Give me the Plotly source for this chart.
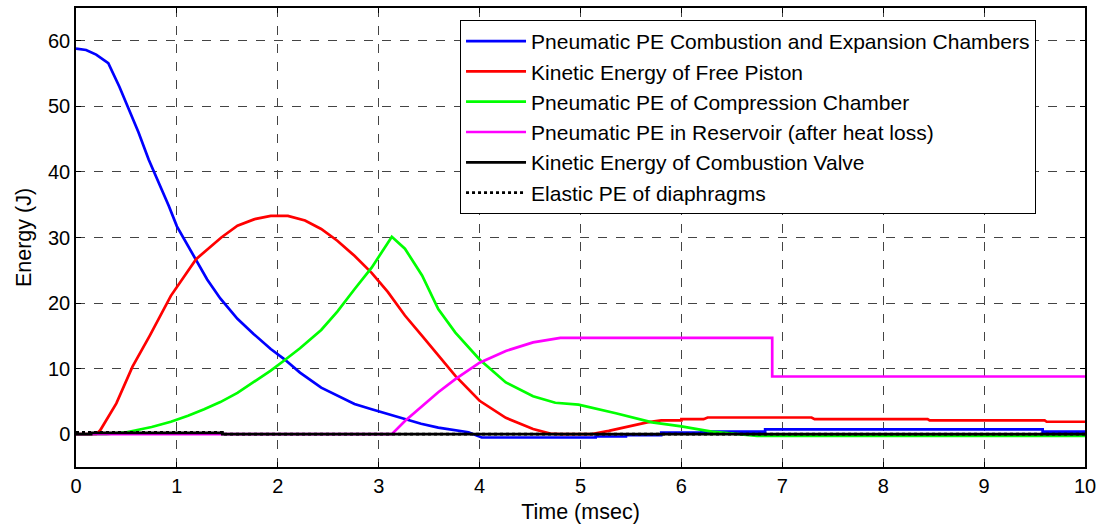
import plotly.graph_objects as go

# ---- data ----
t_blue = [0, 0.1, 0.2, 0.32, 0.43, 0.52, 0.62, 0.72, 0.82, 0.92, 1.0, 1.19, 1.3, 1.43, 1.6, 1.76, 1.93, 2.06, 2.22, 2.43,
          2.59, 2.76, 2.93, 3.1, 3.26, 3.42, 3.59, 3.75, 3.89, 4.02,
          5.15, 5.15, 5.45, 5.45, 5.8, 5.8, 6.2, 6.2, 6.83, 6.83, 9.58, 9.58, 10]
e_blue = [58.8, 58.6, 57.9, 56.6, 53.0, 49.8, 46, 41.9, 38.4, 34.8, 31.7, 26.7, 23.6, 20.7, 17.6, 15.3, 13.0, 11.5, 9.4, 7.1,
          5.85, 4.6, 3.8, 3.0, 2.3, 1.6, 1.0, 0.6, 0.3, -0.5,
          -0.5, -0.35, -0.35, -0.15, -0.15, 0.25, 0.25, 0.4, 0.4, 0.75, 0.75, 0.4, 0.4]

t_red = [0, 0.2, 0.24, 0.4, 0.56, 0.73, 0.94, 1.19, 1.44, 1.6, 1.77, 1.93, 2.1, 2.27, 2.43, 2.59, 2.76, 2.93, 3.09, 3.26,
         3.43, 3.59, 3.76, 4.0, 4.26, 4.53, 4.7, 4.8, 5.1, 5.28, 5.66, 5.8, 6.0, 6.0, 6.22, 6.26, 7.29, 7.32, 8.44, 8.46,
         9.6, 9.62, 10]
e_red = [0, 0, 0.6, 4.7, 10.3, 15, 21.1, 26.7, 30, 31.8, 32.8, 33.3, 33.3, 32.6, 31.3, 29.5, 27.2, 24.6, 21.7, 18.1,
         15.0, 12.0, 8.9, 5.1, 2.5, 0.8, 0.1, 0, 0, 0.5, 1.8, 2.1, 2.1, 2.3, 2.3, 2.55, 2.55, 2.3, 2.3, 2.1,
         2.1, 1.9, 1.9]

t_green = [0, 0.3, 0.5, 0.75, 0.94, 1.11, 1.27, 1.43, 1.6, 1.76, 1.93, 2.06, 2.22, 2.43, 2.59, 2.76, 2.93, 3.13, 3.26,
           3.43, 3.59, 3.76, 4.0, 4.26, 4.53, 4.75, 4.98, 5.35, 5.71, 6.0, 6.3, 6.75, 10]
e_green = [0, 0, 0.3, 1.1, 1.9, 2.8, 3.8, 4.9, 6.3, 7.9, 9.7, 11.2, 13.1, 15.9, 18.7, 22.1, 25.4, 30.1, 28.3,
           24.2, 19.1, 15.5, 11.4, 7.9, 5.8, 4.8, 4.5, 3.2, 1.8, 1.2, 0.4, -0.25, -0.25]

t_mag = [0, 3.13, 3.26, 3.43, 3.59, 3.76, 4.0, 4.26, 4.53, 4.8, 6.9, 6.9, 10]
e_mag = [0, 0, 2.0, 4.3, 6.4, 8.4, 10.9, 12.7, 14.0, 14.7, 14.7, 8.8, 8.8]

t_valve = [0, 0.15, 0.15, 1.45, 1.45, 10]
e_valve = [0, 0, 0.2, 0.2, 0, 0]

t_diaph = [0, 1.45, 1.45, 10]
e_diaph = [0.3, 0.3, 0, 0]

names = ["Pneumatic PE Combustion and Expansion Chambers",
         "Kinetic Energy of Free Piston",
         "Pneumatic PE of Compression Chamber",
         "Pneumatic PE in Reservoir (after heat loss)",
         "Kinetic Energy of Combustion Valve",
         "Elastic PE of diaphragms"]
colors = ["#0000ff", "#ff0000", "#00ff00", "#ff00ff", "#000000", "#000000"]
dashes = ["solid", "solid", "solid", "solid", "solid", "dot"]

x_ticks = list(range(0, 11))
y_ticks = [0, 10, 20, 30, 40, 50, 60]

series = [(t_blue, e_blue), (t_red, e_red), (t_green, e_green), (t_mag, e_mag), (t_valve, e_valve), (t_diaph, e_diaph)]

fig = go.Figure()
for (tx, ey), n, c, d in zip(series, names, colors, dashes):
    fig.add_trace(go.Scatter(x=tx, y=ey, mode="lines", name=n,
                             line=dict(color=c, width=2.7, dash=d)))

font = "Liberation Sans, Arial, sans-serif"
axis_common = dict(showline=True, linecolor="black", linewidth=1.5, mirror="ticks",
                   ticks="inside", ticklen=5, tickcolor="black",
                   showgrid=True, gridcolor="#444444", griddash="dash", gridwidth=1,
                   zeroline=False, automargin=False, ticklabeloverflow="allow",
                   tickfont=dict(family=font, size=20, color="black"))

fig.update_layout(
    width=1097, height=525,
    margin=dict(l=76, r=12, t=8, b=58, autoexpand=False),
    paper_bgcolor="white", plot_bgcolor="white",
    font=dict(family=font, size=20, color="black"),
    xaxis=dict(range=[0, 10], tickvals=x_ticks,
               title=dict(text="Time (msec)", standoff=8, font=dict(family=font, size=21.5)),
               **axis_common),
    yaxis=dict(range=[-5, 65], tickvals=y_ticks,
               title=dict(text="Energy (J)", standoff=10, font=dict(family=font, size=21.5)),
               **axis_common),
    legend=dict(x=0.3806, y=0.974, xanchor="left", yanchor="top",
                bgcolor="white", bordercolor="black", borderwidth=1,
                font=dict(family=font, size=21, color="black"),
                tracegroupgap=0, itemwidth=60),
    showlegend=True,
)

fig.write_html("out.html", config={"displayModeBar": False},
               post_script="document.body.style.margin='0';document.body.style.overflow='hidden';")
